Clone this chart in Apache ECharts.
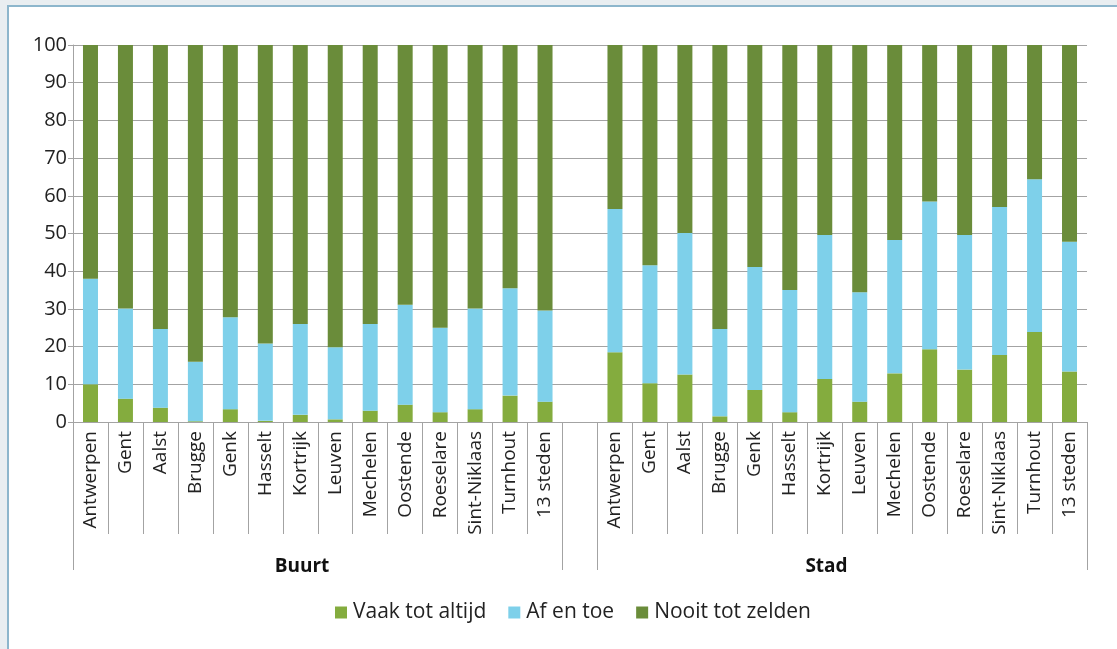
<!DOCTYPE html>
<html>
<head>
<meta charset="utf-8">
<script src="https://cdn.jsdelivr.net/npm/echarts@6/dist/echarts.min.js"></script>
<style>
  html, body { margin:0; padding:0; width:1117px; height:649px; overflow:hidden; background:#e9eef1; }
  #frame { position:absolute; left:7px; top:5px; width:1130px; height:660px; background:#fff; border-left:2px solid #8db6cc; border-top:2px solid #8db6cc; }
  #main { position:absolute; left:0; top:0; width:1117px; height:649px; }
</style>
</head>
<body>
<div id="frame"></div>
<div id="main"></div>
<script>
// ---- data ----
const cities = ['Antwerpen','Gent','Aalst','Brugge','Genk','Hasselt','Kortrijk','Leuven','Mechelen','Oostende','Roeselare','Sint-Niklaas','Turnhout','13 steden'];
const groupNames = ['Buurt', 'Stad'];
const seriesNames = ['Vaak tot altijd', 'Af en toe', 'Nooit tot zelden'];

const buurtVaak  = [10.0, 6.2, 3.8, 0.2, 3.4, 0.3, 1.9, 0.7, 3.0, 4.6, 2.6, 3.4, 7.0, 5.4];
const buurtAf    = [28.0, 23.9, 20.9, 15.8, 24.4, 20.5, 24.1, 19.1, 23.0, 26.5, 22.4, 26.7, 28.5, 24.2];
const buurtNooit = [62.0, 69.9, 75.3, 84.0, 72.2, 79.2, 74.0, 80.2, 74.0, 68.9, 75.0, 69.9, 64.5, 70.4];

const stadVaak   = [18.5, 10.3, 12.6, 1.5, 8.5, 2.6, 11.4, 5.4, 12.9, 19.3, 13.9, 17.8, 23.9, 13.4];
const stadAf     = [38.0, 31.3, 37.5, 23.2, 32.6, 32.4, 38.2, 29.0, 35.4, 39.2, 35.7, 39.2, 40.5, 34.4];
const stadNooit  = [43.5, 58.4, 49.9, 75.3, 58.9, 65.0, 50.4, 65.6, 51.7, 41.5, 50.4, 43.0, 35.6, 52.2];

const yTicks = [0,10,20,30,40,50,60,70,80,90,100];

// ---- build ----
const n = cities.length;
const categories = cities.concat([''], cities);
const join = (a, b) => a.concat([null], b);
const total = categories.length;
const groupBounds = [0, n, n + 1, total];
const groupLabelPos = [n / 2 - 0.45, n + 1 + n / 2 - 0.45];

const colors = ['#84ac3e', '#7ed0ea', '#6a8c3a'];
const font = '"Open Sans", "Noto Sans", sans-serif';
const gridColor = '#a3a3a3';

const chart = echarts.init(document.getElementById('main'), null, {renderer: 'canvas'});
chart.setOption({
  backgroundColor: 'transparent',
  animation: false,
  textStyle: { fontFamily: font },
  grid: { left: 73, right: 30, top: 45, bottom: 227, containLabel: false },
  legend: {
    bottom: 21, left: 330,
    itemWidth: 12, itemHeight: 12, itemGap: 22,
    icon: 'rect',
    textStyle: { fontSize: 21, color: '#222', fontFamily: font, padding: [0,0,0,1] },
    data: seriesNames
  },
  xAxis: [
    {
      type: 'category',
      data: categories,
      position: 'bottom',
      axisLine: { show: true, lineStyle: { color: gridColor, width: 1 } },
      axisTick: { show: true, interval: 0, length: 112, lineStyle: { color: gridColor, width: 1 } },
      axisLabel: { interval: 0, rotate: 90, margin: 9, fontSize: 19, color: '#222', fontFamily: font }
    },
    {
      type: 'value',
      min: 0, max: total,
      position: 'bottom',
      axisLine: { show: false },
      splitLine: { show: false },
      axisTick: { show: true, length: 148, customValues: groupBounds, lineStyle: { color: gridColor, width: 1 } },
      axisLabel: {
        customValues: groupLabelPos,
        margin: 135, fontSize: 19, fontWeight: 'bold', color: '#111', lineHeight: 20, fontFamily: font,
        formatter: v => v < n ? groupNames[0] : groupNames[1]
      }
    }
  ],
  yAxis: {
    type: 'value', min: 0, max: 100, interval: 10,
    axisLine: { show: true, lineStyle: { color: gridColor } },
    axisTick: { show: true, length: 5, lineStyle: { color: gridColor } },
    splitLine: { show: true, lineStyle: { color: gridColor, width: 1 } },
    axisLabel: { margin: 6, fontSize: 20, color: '#222', fontFamily: font,
      customValues: yTicks }
  },
  series: [
    { name: seriesNames[0], type: 'bar', stack: 's', barWidth: 15, itemStyle: { color: colors[0] }, data: join(buurtVaak, stadVaak) },
    { name: seriesNames[1], type: 'bar', stack: 's', barWidth: 15, itemStyle: { color: colors[1] }, data: join(buurtAf, stadAf) },
    { name: seriesNames[2], type: 'bar', stack: 's', barWidth: 15, itemStyle: { color: colors[2] }, data: join(buurtNooit, stadNooit) }
  ]
});
</script>
</body>
</html>
